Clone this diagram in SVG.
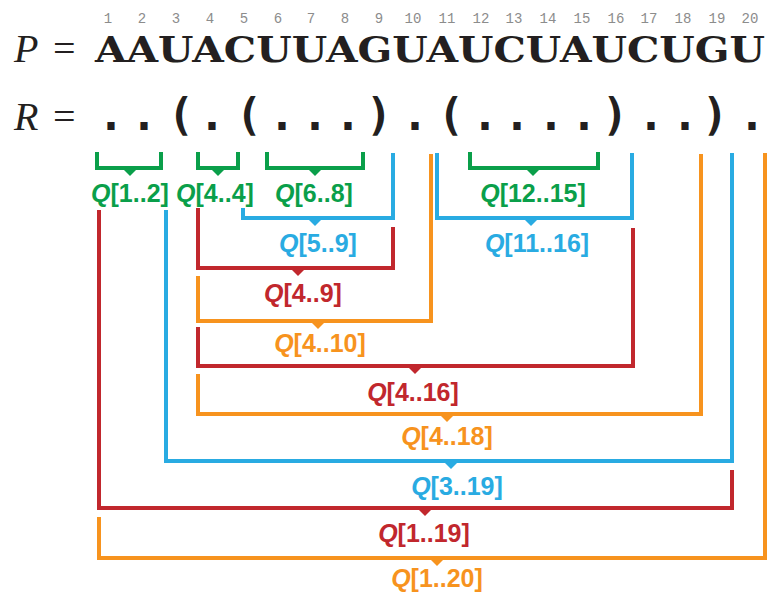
<svg xmlns="http://www.w3.org/2000/svg" width="772" height="593" viewBox="0 0 772 593">
<style>
.num{font-family:"Liberation Mono","Courier New",monospace;font-size:14px;fill:#8c8c8c;text-anchor:middle}
.math{font-family:"Liberation Serif","Times New Roman",serif;font-size:40px;fill:#231f20}
.seq{font-family:"DejaVu Serif",serif;font-weight:bold;font-size:35px;fill:#231f20}
.db{font-family:"DejaVu Sans Mono",monospace;font-weight:bold;font-size:44px;fill:#231f20;text-anchor:middle}
.lab{font-family:"Liberation Sans",Arial,sans-serif;font-weight:bold;font-size:25px;text-anchor:middle}
.q{font-style:italic}
.br{fill:none;stroke-width:4;stroke-linejoin:miter;stroke-linecap:butt}
.g{stroke:#0a9f4a}.gf{fill:#0a9f4a}
.b{stroke:#29abe2}.bf{fill:#29abe2}
.r{stroke:#c1272d}.rf{fill:#c1272d}
.o{stroke:#f7931e}.of{fill:#f7931e}
</style>
<g id="header">
<g class="num">
<text x="108" y="23">1</text><text x="142" y="23">2</text><text x="176" y="23">3</text><text x="210" y="23">4</text><text x="244" y="23">5</text><text x="278" y="23">6</text><text x="311" y="23">7</text><text x="345" y="23">8</text><text x="379" y="23">9</text><text x="413" y="23">10</text><text x="447" y="23">11</text><text x="481" y="23">12</text><text x="514" y="23">13</text><text x="548" y="23">14</text><text x="582" y="23">15</text><text x="616" y="23">16</text><text x="649" y="23">17</text><text x="683" y="23">18</text><text x="717" y="23">19</text><text x="750" y="23">20</text>
</g>
<text class="math" x="14" y="62"><tspan font-style="italic">P</tspan></text>
<text class="math" x="53" y="62">=</text>
<text class="seq" x="95" y="62" textLength="670" lengthAdjust="spacingAndGlyphs">AAUACUUAGUAUCUAUCUGU</text>
<text class="math" x="14" y="130"><tspan font-style="italic">R</tspan></text>
<text class="math" x="53" y="130">=</text>
<g class="db">
<text x="111" y="130">.</text><text x="144" y="130">.</text><text x="181" y="130">(</text><text x="212" y="130">.</text><text x="249" y="130">(</text><text x="282" y="130">.</text><text x="315" y="130">.</text><text x="348" y="130">.</text><text x="379" y="130">)</text><text x="415" y="130">.</text><text x="451" y="130">(</text><text x="485" y="130">.</text><text x="517" y="130">.</text><text x="551" y="130">.</text><text x="584" y="130">.</text><text x="615" y="130">)</text><text x="651" y="130">.</text><text x="685" y="130">.</text><text x="715" y="130">)</text><text x="752" y="130">.</text>
</g>
</g>
<g id="connectors">
<path id="c-1-2" class="br g" d="M97,152V168H161V152"/>
<path id="c-4-4" class="br g" d="M198,152V168H238V152"/>
<path id="c-6-8" class="br g" d="M267,152V168H363V152"/>
<path id="c-12-15" class="br g" d="M470,152V168H598V152"/>
<path id="c-5-9" class="br b" d="M243,208V218H393V153"/>
<path id="c-11-16" class="br b" d="M437,153V218H632V153"/>
<path id="c-4-9" class="br r" d="M198,208V268H393V227"/>
<path id="c-4-10" class="br o" d="M198,276V321H431V154"/>
<path id="c-4-16" class="br r" d="M198,327V366H633V228"/>
<path id="c-4-18" class="br o" d="M198,374V414H701V154"/>
<path id="c-3-19" class="br b" d="M166,210V461H732V153"/>
<path id="c-1-19" class="br r" d="M99,210V508H732V470"/>
<path id="c-1-20" class="br o" d="M99,517V558H765V153"/>
</g>
<g id="q-1-2"><polygon class="gf" points="123,169 137,169 130,176"/><text class="lab gf" x="130" y="202"><tspan class="q">Q</tspan>[1..2]</text></g>
<g id="q-4-4"><polygon class="gf" points="211,169 225,169 218,176"/><text class="lab gf" x="215" y="202"><tspan class="q">Q</tspan>[4..4]</text></g>
<g id="q-6-8"><polygon class="gf" points="308,169 322,169 315,176"/><text class="lab gf" x="314" y="202"><tspan class="q">Q</tspan>[6..8]</text></g>
<g id="q-12-15"><polygon class="gf" points="526,169 540,169 533,176"/><text class="lab gf" x="533" y="202"><tspan class="q">Q</tspan>[12..15]</text></g>
<g id="q-5-9"><polygon class="bf" points="308,219 322,219 315,226"/><text class="lab bf" x="318" y="252"><tspan class="q">Q</tspan>[5..9]</text></g>
<g id="q-11-16"><polygon class="bf" points="524,219 538,219 531,226"/><text class="lab bf" x="537" y="252"><tspan class="q">Q</tspan>[11..16]</text></g>
<g id="q-4-9"><polygon class="rf" points="291,269 305,269 298,276"/><text class="lab rf" x="303" y="302"><tspan class="q">Q</tspan>[4..9]</text></g>
<g id="q-4-10"><polygon class="of" points="311,322 325,322 318,329"/><text class="lab of" x="320" y="352"><tspan class="q">Q</tspan>[4..10]</text></g>
<g id="q-4-16"><polygon class="rf" points="408,367 422,367 415,374"/><text class="lab rf" x="413" y="401"><tspan class="q">Q</tspan>[4..16]</text></g>
<g id="q-4-18"><polygon class="of" points="440,415 454,415 447,422"/><text class="lab of" x="447" y="445"><tspan class="q">Q</tspan>[4..18]</text></g>
<g id="q-3-19"><polygon class="bf" points="444,462 458,462 451,469"/><text class="lab bf" x="457" y="495"><tspan class="q">Q</tspan>[3..19]</text></g>
<g id="q-1-19"><polygon class="rf" points="418,509 432,509 425,516"/><text class="lab rf" x="424" y="542"><tspan class="q">Q</tspan>[1..19]</text></g>
<g id="q-1-20"><polygon class="of" points="430,559 444,559 437,566"/><text class="lab of" x="437" y="587"><tspan class="q">Q</tspan>[1..20]</text></g>
</svg>
